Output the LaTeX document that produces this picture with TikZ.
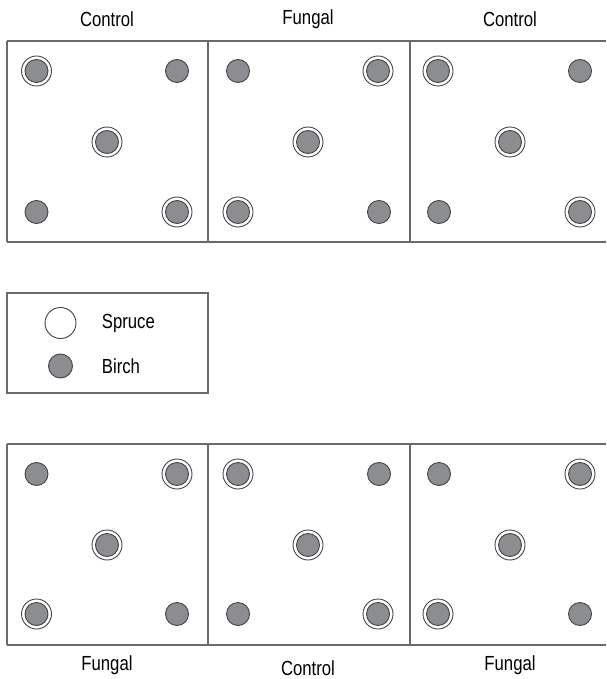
\documentclass[tikz,border=0pt]{standalone}
\usepackage{fontspec}
\setmainfont{Liberation Sans}
\usetikzlibrary{positioning}
\definecolor{plotgray}{HTML}{6A6A6A}
\definecolor{ringgray}{HTML}{444444}
\definecolor{birchgray}{HTML}{8C8D90}
\tikzset{plotline/.style = {draw=plotgray, line width=0.6pt}}
\tikzset{spruce/.style = {circle, draw=ringgray, fill=white, line width=0.45pt,
                          inner sep=0, minimum size=15pt}}
\tikzset{birch/.style = {circle, draw=ringgray, fill=birchgray, line width=0.45pt,
                         inner sep=0, minimum size=11.5pt}}
\tikzset{treat/.style = {font=\fontsize{10.2}{11}\selectfont, text=black, inner sep=0}}
% narrow sans, like the figure's lettering
\newcommand{\cond}[1]{\scalebox{0.82}[1]{#1}}
% spruce with birch planted inside
\newcommand{\ringed}[2]{\node[spruce] (#1) at (#2) {};
                        \node[birch] (#1-in) at (#1) {};}
\newcommand{\single}[2]{\node[birch] (#1) at (#2) {};}

\begin{document}
\begin{tikzpicture}[x=0.5pt, y=-0.5pt]
      \useasboundingbox (0,0) rectangle (606,679);

      % top row of plots
      \draw[plotline] (7,41) -- (606,41);
      \draw[plotline] (7,242) -- (606,242);
      \draw[plotline] (7,41) -- (7,242);
      \draw[plotline] (208,41) -- (208,242);
      \draw[plotline] (410,41) -- (410,242);

      \node[treat] (t1) at (107,19) {\cond{Control}};
      \node[treat] (t2) at (308,19) {\cond{Fungal}};
      \node[treat] (t3) at (510,19) {\cond{Control}};

      \ringed{a1}{36.5,71}   \single{a2}{177,71}
      \ringed{a3}{107,142}
      \single{a4}{36.5,212}  \ringed{a5}{177,212}

      \single{b1}{238,71}    \ringed{b2}{378,71}
      \ringed{b3}{308,142}
      \ringed{b4}{238,212}   \single{b5}{379,212}

      \ringed{c1}{438,71}    \single{c2}{580,71}
      \ringed{c3}{510,142}
      \single{c4}{439,212}   \ringed{c5}{580,212}

      % legend
      \draw[plotline] (7,293) rectangle (208,393);
      \node[spruce, minimum size=15.5pt] (sp) at (60.5,323) {};
      \node[birch, minimum size=12pt] (bi) at (60.5,366) {};
      \node[treat, anchor=west] (spl) at (101.5,323) {\cond{Spruce}};
      \node[treat, anchor=west] (bil) at (101.5,366) {\cond{Birch}};

      % bottom row of plots
      \draw[plotline] (7,444) -- (606,444);
      \draw[plotline] (7,645) -- (606,645);
      \draw[plotline] (7,444) -- (7,645);
      \draw[plotline] (208,444) -- (208,645);
      \draw[plotline] (410,444) -- (410,645);

      \node[treat] (u1) at (107,665) {\cond{Fungal}};
      \node[treat] (u2) at (308,668) {\cond{Control}};
      \node[treat] (u3) at (510,665) {\cond{Fungal}};

      \single{d1}{36.5,474}  \ringed{d2}{177,474}
      \ringed{d3}{107,545}
      \ringed{d4}{36.5,614}  \single{d5}{177,614}

      \ringed{e1}{238,474}   \single{e2}{379,474}
      \ringed{e3}{308,545}
      \single{e4}{238,614}   \ringed{e5}{378,614}

      \single{f1}{439,474}   \ringed{f2}{580,474}
      \ringed{f3}{510,545}
      \ringed{f4}{438,614}   \single{f5}{580,614}
    \end{tikzpicture}
\end{document}
